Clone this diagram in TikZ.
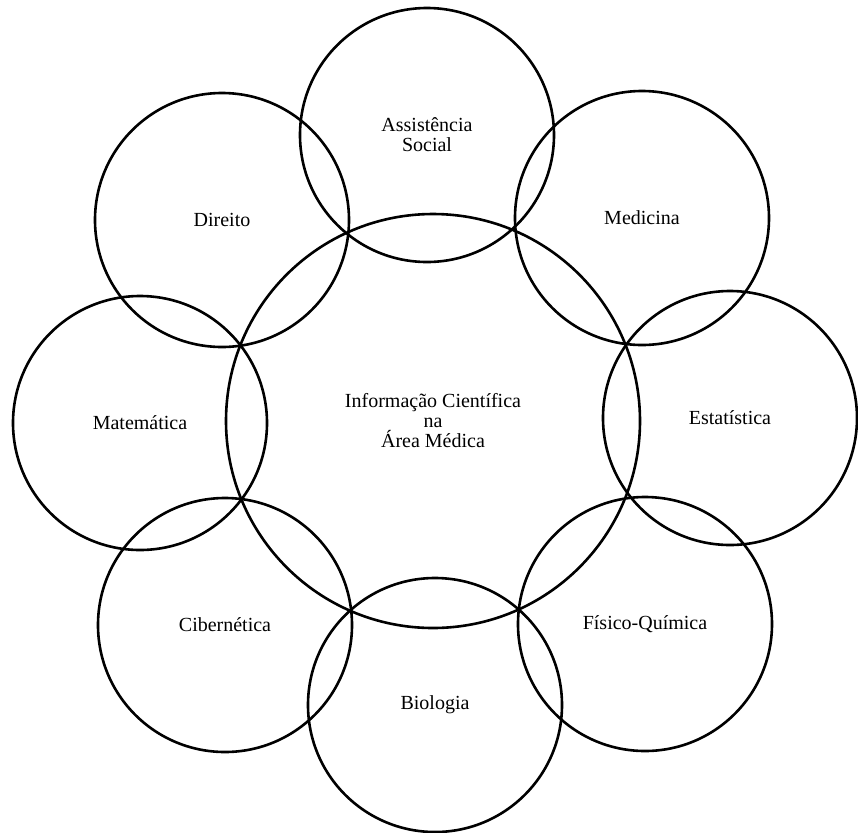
\documentclass[tikz,border=0pt]{standalone}
\usepackage{fontspec}
\setmainfont{Liberation Serif}

\begin{document}
\begin{tikzpicture}[x=0.5pt, y=-0.5pt]
	\tikzstyle{every node} = [circle, draw, line width=1.3pt, inner sep=0pt, minimum size=127pt, align=center, font=\fontsize{10}{10}\selectfont]
	\useasboundingbox (0,0) rectangle (858,832);
	\node[minimum size=207pt] (info) at (433, 421) {Informação Científica\\na\\Área Médica};
	\node (assist) at (427, 135) {Assistência\\Social};
	\node (med) at (642, 218) {Medicina};
	\node (est) at (730, 418) {Estatística};
	\node (fq) at (645, 624) {Físico-Química};
	\node (bio) at (435, 705) {Biologia};
	\node (ciber) at (225, 625) {Cibernética};
	\node (mat) at (140, 423) {Matemática};
	\node (dir) at (222, 220) {Direito};
\end{tikzpicture}
\end{document}
